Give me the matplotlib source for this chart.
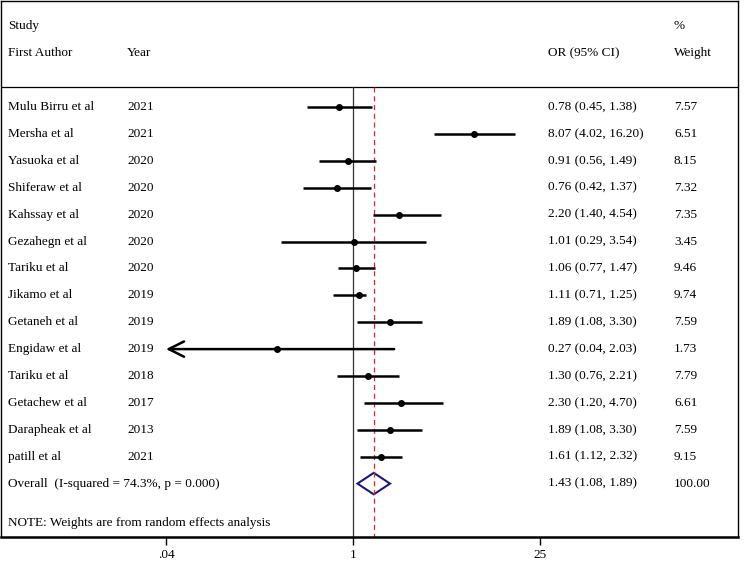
import matplotlib.pyplot as plt
from matplotlib.patches import Polygon
import numpy as np

plt.rcParams['font.family'] = ['Liberation Serif', 'DejaVu Serif']

authors = ['Mulu Birru et al', 'Mersha et al', 'Yasuoka et al', 'Shiferaw et al',
           'Kahssay et al', 'Gezahegn et al', 'Tariku et al', 'Jikamo et al',
           'Getaneh et al', 'Engidaw et al', 'Tariku et al', 'Getachew et al',
           'Darapheak et al', 'patill et al']
years = ['2021', '2021', '2020', '2020', '2020', '2020', '2020', '2019',
         '2019', '2019', '2018', '2017', '2013', '2021']
ors = [0.78, 8.07, 0.91, 0.76, 2.20, 1.01, 1.06, 1.11, 1.89, 0.27, 1.30, 2.30, 1.89, 1.61]
lo = [0.45, 4.02, 0.56, 0.42, 1.40, 0.29, 0.77, 0.71, 1.08, 0.04, 0.76, 1.20, 1.08, 1.12]
hi = [1.38, 16.20, 1.49, 1.37, 4.54, 3.54, 1.47, 1.25, 3.30, 2.03, 2.21, 4.70, 3.30, 2.32]
weights = ['7.57', '6.51', '8.15', '7.32', '7.35', '3.45', '9.46', '9.74',
           '7.59', '1.73', '7.79', '6.61', '7.59', '9.15']
overall_or, overall_lo, overall_hi = 1.43, 1.08, 1.89
overall_label = 'Overall  (I-squared = 74.3%, p = 0.000)'
xticks = [0.04, 1, 25]
xticklabels = ['.04', '1', '25']

W, H = 744, 563
fig = plt.figure(figsize=(W / 100, H / 100), dpi=100)
ax = fig.add_axes([1 / W, 1 - 537 / H, 737 / W, 536 / H])
ax.set_xscale('log')
ppd = 133.8  # pixels per decade
ax.set_xlim(10 ** (-352 / ppd), 10 ** (385 / ppd))
ax.set_ylim((537 - 107) / 26.9, (1 - 107) / 26.9)

fs = 9.5
tr = ax.get_yaxis_transform()
cx_auth, cx_year, cx_or, cx_w = 7 / 737, 126 / 737, 547 / 737, 673 / 737

# header
ax.text(cx_auth, -3, 'Study', transform=tr, fontsize=fs, va='center')
ax.text(cx_auth, -2, 'First Author', transform=tr, fontsize=fs, va='center')
ax.text(cx_year, -2, 'Year', transform=tr, fontsize=fs, va='center')
ax.text(cx_or, -2, 'OR (95% CI)', transform=tr, fontsize=fs, va='center')
ax.text(cx_w, -3, '%', transform=tr, fontsize=fs, va='center')
ax.text(cx_w, -2, 'Weight', transform=tr, fontsize=fs, va='center')
sep = -0.74
ax.axhline(sep, color='black', lw=0.9)

ytop = (537 - 107) / 26.9
ax.plot([1, 1], [sep, ytop], color='#333333', lw=0.9)
ax.plot([overall_or, overall_or], [sep, ytop], color='#b03a3a', lw=0.9,
        ls=(0, (4, 3)))

for i in range(len(authors)):
    ax.text(cx_auth, i, authors[i], transform=tr, fontsize=fs, va='center')
    ax.text(cx_year, i, years[i], transform=tr, fontsize=fs, va='center')
    ax.text(cx_or, i, '%.2f (%.2f, %.2f)' % (ors[i], lo[i], hi[i]),
            transform=tr, fontsize=fs, va='center')
    ax.text(cx_w, i, weights[i], transform=tr, fontsize=fs, va='center')
    if lo[i] <= 0.04:
        ax.annotate('', xy=(lo[i], i), xytext=(hi[i], i),
                    arrowprops=dict(arrowstyle='->,head_length=1.1,head_width=0.55',
                                    color='black', lw=1.8, shrinkA=0, shrinkB=0))
    else:
        ax.plot([lo[i], hi[i]], [i, i], color='black', lw=1.8, solid_capstyle='butt')
    ax.plot(ors[i], i, 'o', color='black', ms=4)

n = len(authors)
ax.text(cx_auth, n, overall_label, transform=tr, fontsize=fs, va='center')
ax.text(cx_or, n, '%.2f (%.2f, %.2f)' % (overall_or, overall_lo, overall_hi),
        transform=tr, fontsize=fs, va='center')
ax.text(cx_w, n, '100.00', transform=tr, fontsize=fs, va='center')
dh = 0.4
ax.add_patch(Polygon([[overall_lo, n], [overall_or, n - dh], [overall_hi, n],
                      [overall_or, n + dh]], closed=True, fill=False,
                     edgecolor='#1a1a7a', lw=1.5))

ax.text(cx_auth, (523 - 107) / 26.9, 'NOTE: Weights are from random effects analysis',
        transform=tr, fontsize=fs, va='center')

ax.set_xticks(xticks)
ax.set_xticklabels(xticklabels, fontsize=fs)
ax.xaxis.set_minor_locator(plt.NullLocator())
ax.tick_params(axis='x', direction='out', length=6, width=1, pad=3)
ax.set_yticks([])
for s in ax.spines.values():
    s.set_linewidth(1.0)
ax.spines['bottom'].set_linewidth(1.8)

fig.savefig('out.png', dpi=100)
